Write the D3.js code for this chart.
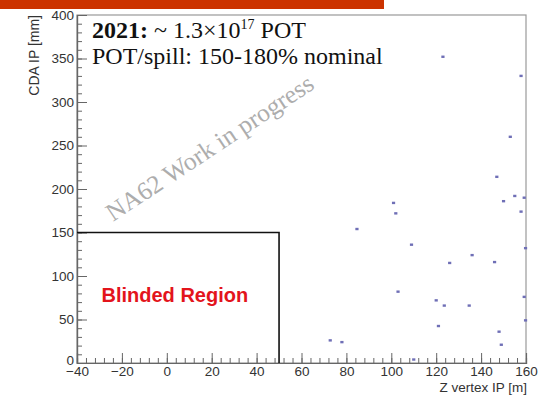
<!DOCTYPE html>
<html>
<head>
<meta charset="utf-8">
<script src="https://cdn.jsdelivr.net/npm/d3@7"></script>
<style>
  html, body { margin: 0; padding: 0; background: #fff; }
  svg { display: block; }
</style>
</head>
<body>
<svg id="chart" width="539" height="397"></svg>
<script>
// Candidate events: Z vertex position [m] and CDA at the IP [mm]
const zVertex = [123, 157.8, 153, 147, 101, 102, 84.7, 109, 136, 126, 146, 150, 155, 159.2,
                 157.8, 159.8, 103, 120, 123.6, 134.7, 121, 159.2, 159.8, 148, 149, 72.8, 78, 110];
const cdaIP   = [352, 330, 260, 214, 184, 172, 154, 136, 124, 115, 116, 186, 192, 190,
                 174, 132, 82, 72, 66, 66, 42.5, 76, 49, 36, 21, 26, 24, 4];

// Axis tick values
const xMajorTicks = [-40, -20, 0, 20, 40, 60, 80, 100, 120, 140, 160];
const yMajorTicks = [0, 50, 100, 150, 200, 250, 300, 350, 400];

// Blinded signal region: Z < 50 m, CDA < 150 mm
const blindZmax = 50;
const blindCDAmax = 150;

const headerYear = "2021:";
const headerPOT = ["~ 1.3×10", "17", " POT"];
const headerSpill = "POT/spill: 150-180% nominal";
const watermark = "NA62 Work in progress";
const blindLabel = "Blinded Region";
const xTitle = "Z vertex IP [m]";
const yTitle = "CDA IP [mm]";

const svg = d3.select("#chart");

// Top banner strip
svg.append("rect").attr("x", 0).attr("y", 0).attr("width", 384).attr("height", 9)
  .attr("fill", "#cc3300");

const x = d3.scaleLinear().domain([-40, 160]).range([77, 526]);
const y = d3.scaleLinear().domain([0, 400]).range([363, 15]);

const sans = "'Liberation Sans', Arial, Helvetica, sans-serif";
const serif = "'Liberation Serif', 'Times New Roman', serif";

// Frame
svg.append("rect")
  .attr("x", x(-40)).attr("y", y(400))
  .attr("width", x(160) - x(-40)).attr("height", y(0) - y(400))
  .attr("fill", "none").attr("stroke", "#999").attr("stroke-width", 1.2);

// X axis: major and minor ticks pointing inward
const xMinor = d3.range(-40, 160.01, 4);
const gxMinor = svg.append("g").attr("transform", `translate(0,${y(0)})`)
  .call(d3.axisBottom(x).tickValues(xMinor).tickSize(-5).tickFormat(""));
const gx = svg.append("g").attr("transform", `translate(0,${y(0)})`)
  .call(d3.axisBottom(x).tickValues(xMajorTicks).tickSize(-10).tickPadding(1));

// Y axis
const yMinor = d3.range(0, 400.01, 10);
const gyMinor = svg.append("g").attr("transform", `translate(${x(-40)},0)`)
  .call(d3.axisLeft(y).tickValues(yMinor).tickSize(-5).tickFormat(""));
const gy = svg.append("g").attr("transform", `translate(${x(-40)},0)`)
  .call(d3.axisLeft(y).tickValues(yMajorTicks).tickSize(-10).tickPadding(4));

[gxMinor, gx, gyMinor, gy].forEach(g => {
  g.select(".domain").attr("stroke", "#666").attr("stroke-width", 1.2);
  g.selectAll(".tick line").attr("stroke", "#666").attr("stroke-width", 1);
  g.selectAll(".tick text").attr("fill", "#333")
    .style("font-family", sans).style("font-size", "13.5px");
});
gx.selectAll(".tick text").attr("y", 0).attr("dy", "0.95em");
gy.selectAll(".tick text").attr("x", -3);
// the zero label sits a little higher so it clears the first x label
gy.selectAll(".tick text").filter(d => d === 0).attr("dy", "0.1em");

// Axis titles
svg.append("text").attr("x", 527).attr("y", 392)
  .attr("text-anchor", "end").attr("fill", "#333")
  .style("font-family", sans).style("font-size", "13.5px").text(xTitle);
svg.append("text")
  .attr("transform", `translate(39,15) rotate(-90)`)
  .attr("text-anchor", "end").attr("fill", "#333")
  .style("font-family", sans).style("font-size", "14px").text(yTitle);

// Watermark
svg.append("text")
  .attr("transform", `translate(113,222) rotate(-33.5)`)
  .attr("fill", "#adadad")
  .style("font-family", serif).style("font-size", "25.5px").text(watermark);

// Blinded region outline
svg.append("path")
  .attr("d", `M${x(-40)},${y(blindCDAmax)} H${x(blindZmax)} V${y(0)}`)
  .attr("fill", "none").attr("stroke", "#111").attr("stroke-width", 1.6);

svg.append("text").attr("x", 101.5).attr("y", 302)
  .attr("fill", "#e3141c")
  .style("font-family", sans).style("font-weight", "bold").style("font-size", "20px")
  .text(blindLabel);

// Header
const h1 = svg.append("text").attr("x", 92).attr("y", 37.5)
  .attr("fill", "#111").style("font-family", serif).style("font-size", "24px");
h1.append("tspan").style("font-weight", "bold").text(headerYear);
h1.append("tspan").text(" " + headerPOT[0]);
h1.append("tspan").attr("dy", -9).style("font-size", "14px").text(headerPOT[1]);
h1.append("tspan").attr("dy", 9).text(headerPOT[2]);

svg.append("text").attr("x", 92).attr("y", 64)
  .attr("fill", "#111").style("font-family", serif).style("font-size", "24px")
  .text(headerSpill);

// Events
svg.append("g").selectAll("rect")
  .data(d3.zip(zVertex, cdaIP))
  .join("rect")
  .attr("x", d => x(d[0]) - 1.6)
  .attr("y", d => y(d[1]) - 1.2)
  .attr("width", 3.2).attr("height", 2.4)
  .attr("fill", "#6f6fb6");
</script>
</body>
</html>
